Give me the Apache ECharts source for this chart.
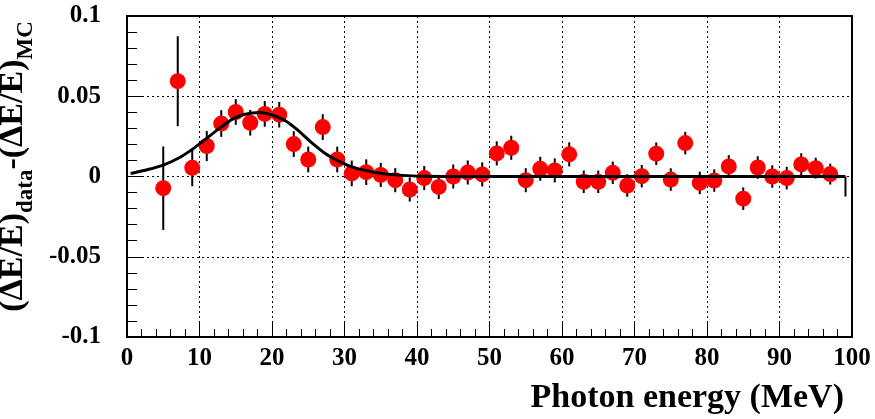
<!DOCTYPE html>
<html>
<head>
<meta charset="utf-8">
<script src="https://cdn.jsdelivr.net/npm/echarts@6/dist/echarts.min.js"></script>
<style>
html,body{margin:0;padding:0;background:#fff;}
#c{width:875px;height:419px;}
</style>
</head>
<body>
<div id="c"></div>
<script>
// ---- data ----
const energies = [5,7,9,11,13,15,17,19,21,23,25,27,29,31,33,35,37,39,41,43,45,47,49,51,53,55,57,59,61,63,65,67,69,71,73,75,77,79,81,83,85,87,89,91,93,95,97];
const diffValues = [-0.0073,0.0594,0.0054,0.019,0.033,0.0402,0.0335,0.039,0.0385,0.0202,0.0106,0.0308,0.0106,0.0019,0.0027,0.001,-0.0023,-0.0081,-0.001,-0.0065,0.0,0.0025,0.0013,0.0144,0.0179,-0.0023,0.0048,0.0038,0.0138,-0.0033,-0.0033,0.0023,-0.0056,0.0002,0.0142,-0.0019,0.0208,-0.004,-0.0025,0.0063,-0.0138,0.0056,0.0,-0.001,0.0075,0.0052,0.0015];
const diffErrors = [0.026,0.028,0.0115,0.0094,0.0083,0.008,0.008,0.008,0.008,0.008,0.008,0.008,0.008,0.008,0.008,0.0075,0.0075,0.0075,0.0075,0.0075,0.0075,0.0075,0.0075,0.0075,0.0075,0.0075,0.0075,0.0075,0.0075,0.007,0.007,0.007,0.007,0.007,0.007,0.007,0.007,0.007,0.007,0.007,0.007,0.007,0.007,0.007,0.007,0.0065,0.0065];
const fitX = [0.5,2.5,4.9,7.2,9,10.8,12.7,14.5,16.3,18.3,20,21.9,23.7,25.5,27.4,29.2,31.1,32.9,35.4,38,41,45,99.1];
const fitY = [0.0019,0.0039,0.0069,0.0117,0.0169,0.0231,0.0298,0.0356,0.0388,0.0399,0.0383,0.0346,0.0283,0.021,0.0142,0.0096,0.0058,0.0037,0.0017,0.0007,0.0002,0,0];
const fitEndX = [99.1,99.1];
const fitEndY = [0,-0.0125];
const xTickValues = [0,10,20,30,40,50,60,70,80,90,100];
const xTickLabels = ['0','10','20','30','40','50','60','70','80','90','100'];
const yTickValues = [-0.1,-0.05,0,0.05,0.1];
const yTickLabels = ['-0.1','-0.05','0','0.05','0.1'];

// ---- chart ----
const FONT = "'Liberation Serif', 'Times New Roman', serif";
function pickLabel(vals, labs, v){
  let best = 0, bd = Infinity;
  for (let i = 0; i < vals.length; i++){ const d = Math.abs(vals[i]-v); if (d < bd){ bd = d; best = i; } }
  return labs[best];
}
const pts = energies.map((x,i)=>[x, diffValues[i], diffErrors[i]]);
const fit = fitX.map((x,i)=>[x, fitY[i]]);
const fitEnd = fitEndX.map((x,i)=>[x, fitEndY[i]]);

const chart = echarts.init(document.getElementById('c'), null, {renderer:'canvas'});
chart.setOption({
  backgroundColor:'#fff',
  animation:false,
  textStyle:{fontFamily:FONT},
  grid:{left:127, right:23, top:16, bottom:82, containLabel:false, outerBoundsMode:'none', show:true, borderColor:'#000', borderWidth:2, backgroundColor:'transparent'},
  xAxis:{
    type:'value', min:0, max:100, interval:10,
    axisLine:{show:true, onZero:false, lineStyle:{color:'#000', width:2}},
    axisTick:{show:true, inside:true, length:16, lineStyle:{color:'#000', width:1}},
    minorTick:{show:true, splitNumber:5, length:8, lineStyle:{color:'#000', width:1}},
    splitLine:{show:true, lineStyle:{color:'#000', width:1, type:[2,3]}},
    axisLabel:{margin:9, color:'#000', fontFamily:FONT, fontWeight:'bold', fontSize:25,
      formatter:v=>pickLabel(xTickValues, xTickLabels, v)},
    name:'Photon energy (MeV)', nameLocation:'end', nameGap:-8,
    nameTextStyle:{color:'#000', fontFamily:FONT, fontWeight:'bold', fontSize:34, align:'right', verticalAlign:'top', padding:[44,0,0,0]}
  },
  yAxis:{
    type:'value', min:-0.1, max:0.1, interval:0.05,
    axisLine:{show:true, onZero:false, lineStyle:{color:'#000', width:2}},
    axisTick:{show:true, inside:true, length:17, lineStyle:{color:'#000', width:1}},
    minorTick:{show:true, splitNumber:5, length:10, lineStyle:{color:'#000', width:1}},
    splitLine:{show:true, lineStyle:{color:'#000', width:1, type:[2,3]}},
    axisLabel:{margin:26, color:'#000', fontFamily:FONT, fontWeight:'bold', fontSize:25,
      formatter:v=>pickLabel(yTickValues, yTickLabels, v)},
    name:'{m|(ΔE/E)}{s|data}{m|-(ΔE/E)}{s|MC}', nameLocation:'middle', nameGap:89, nameRotate:90,
    nameTextStyle:{color:'#000', fontFamily:FONT, fontWeight:'bold', padding:[0,0,0,20],
      rich:{
        m:{fontFamily:FONT, fontWeight:'bold', fontSize:34, color:'#000', lineHeight:36, verticalAlign:'top'},
        s:{fontFamily:FONT, fontWeight:'bold', fontSize:23, color:'#000', lineHeight:25, padding:[19,0,0,0], verticalAlign:'top'}
      }}
  },
  series:[
    {
      type:'custom', name:'errors', z:2,
      data:pts,
      renderItem:function(params, api){
        const x = api.value(0), y = api.value(1), e = api.value(2);
        const p1 = api.coord([x, y+e]), p2 = api.coord([x, y-e]);
        return {type:'line', shape:{x1:p1[0], y1:p1[1], x2:p2[0], y2:p2[1]}, style:{stroke:'#000', lineWidth:2}};
      },
      encode:{x:0, y:1}
    },
    {
      type:'scatter', name:'data', z:3,
      data:pts.map(p=>[p[0],p[1]]),
      symbol:'circle', symbolSize:16,
      itemStyle:{color:'#ff0000', opacity:1}
    },
    {
      type:'line', name:'fit', z:4,
      data:fit, showSymbol:false, symbol:'none', smooth:0.3,
      lineStyle:{color:'#000', width:3}
    },
    {
      type:'line', name:'fitEnd', z:4,
      data:fitEnd, showSymbol:false, symbol:'none',
      lineStyle:{color:'#000', width:2}
    }
  ]
});
</script>
</body>
</html>
